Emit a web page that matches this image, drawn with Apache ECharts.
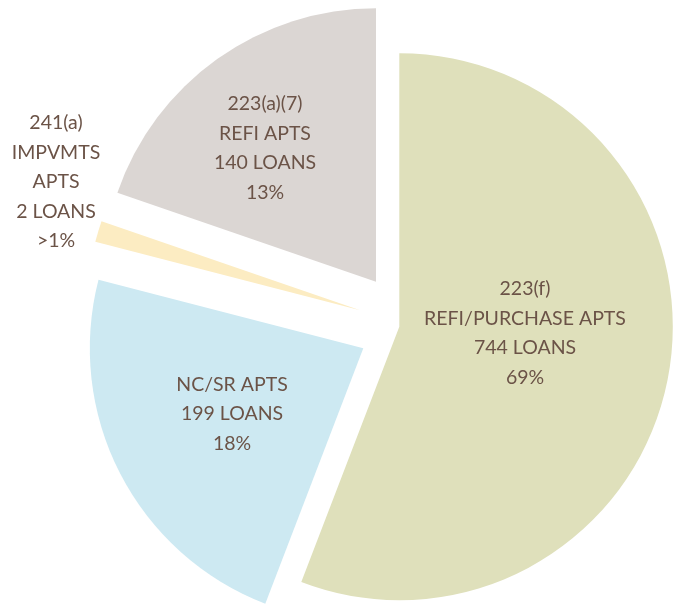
<!DOCTYPE html>
<html>
<head>
<meta charset="utf-8">
<script src="https://cdn.jsdelivr.net/npm/echarts@6/dist/echarts.min.js"></script>
<style>html,body{margin:0;padding:0;background:#fff;}#c{width:679px;height:604px;}</style>
</head>
<body>
<div id="c"></div>
<script>
// Categories and text as shown in the chart
var categories = ['223(f) REFI/PURCHASE APTS', 'NC/SR APTS', '241(a) IMPVMTS APTS', '223(a)(7) REFI APTS'];
var labelLines = [
  ['223(f)', 'REFI/PURCHASE APTS', '744 LOANS', '69%'],
  ['NC/SR APTS', '199 LOANS', '18%'],
  ['241(a)', 'IMPVMTS', 'APTS', '2 LOANS', '>1%'],
  ['223(a)(7)', 'REFI APTS', '140 LOANS', '13%']
];
var loans = [744, 199, 2, 140];
// Slice sizes as drawn in the picture (angular share, degrees)
var sliceShares = [201, 83.5, 4.5, 71];
var colors = ['#dfe0bb', '#cde9f2', '#fcecc2', '#dbd6d3'];

var centers = [[399.3, 326.7], [363.3, 348.3], [360.1, 310.3], [376, 281.7]];
var labelPos = [[525, 333], [232, 414], [56, 182], [265, 148]];

var chart = echarts.init(document.getElementById('c'), null, {renderer: 'canvas'});
var series = categories.map(function (name, si) {
  return {
    type: 'pie',
    center: centers[si],
    radius: 273.5,
    startAngle: 90,
    clockwise: true,
    silent: true,
    animation: false,
    avoidLabelOverlap: false,
    label: {
      show: true,
      position: 'inside',
      color: '#6b5347',
      fontFamily: 'Lato',
      fontSize: 19.5,
      lineHeight: 29.5,
      align: 'center',
      formatter: function (p) { return labelLines[p.dataIndex].join('\n'); }
    },
    labelLine: {show: false},
    labelLayout: function (p) {
      return {x: labelPos[si][0], y: labelPos[si][1], align: 'center', verticalAlign: 'middle'};
    },
    data: categories.map(function (n, i) {
      return {
        name: n,
        value: sliceShares[i],
        itemStyle: {color: i === si ? colors[i] : 'rgba(0,0,0,0)'},
        label: {show: i === si}
      };
    })
  };
});
chart.setOption({backgroundColor: '#ffffff', series: series});
</script>
</body>
</html>
